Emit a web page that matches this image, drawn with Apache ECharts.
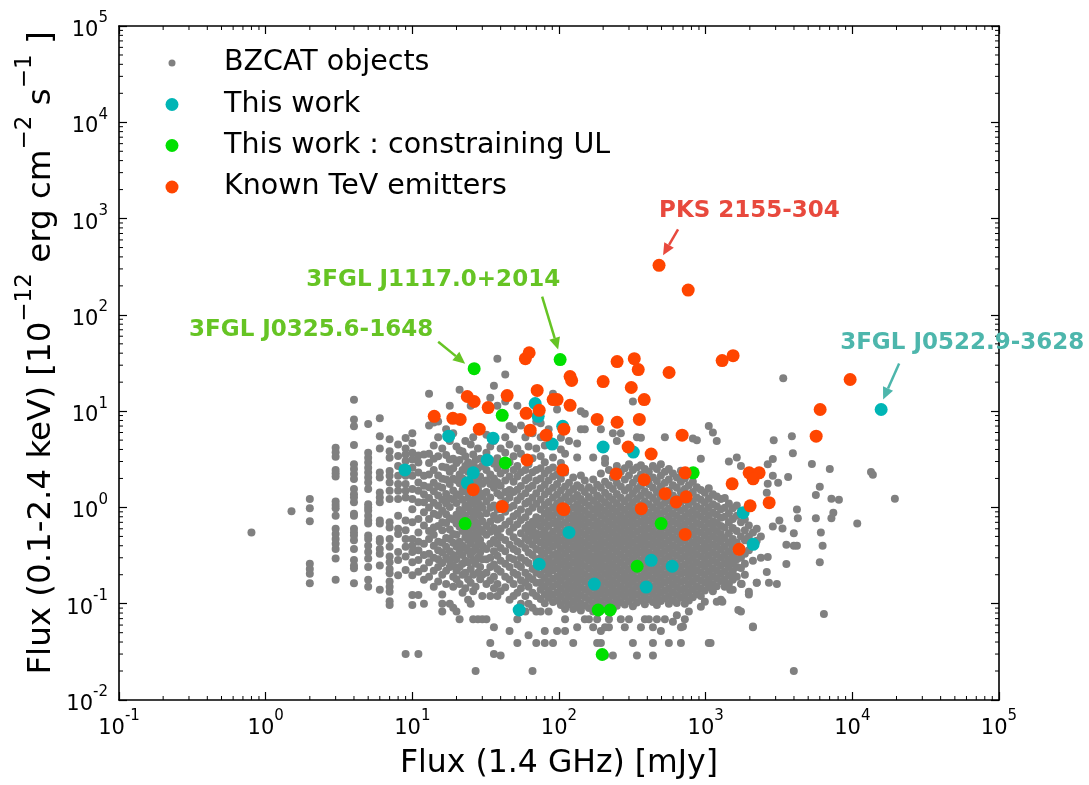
<!DOCTYPE html>
<html>
<head>
<meta charset="utf-8">
<script src="https://cdn.jsdelivr.net/npm/echarts@6/dist/echarts.min.js"></script>
<style>
html, body { margin: 0; padding: 0; background: #fff; }
#chart { width: 1089px; height: 785px; }
</style>
</head>
<body>
<div id="chart"></div>
<script>
// BZCAT blazars: radio flux at 1.4 GHz (mJy) with the 0.1-2.4 keV fluxes (1e-12 erg/cm2/s)
// of the sources found at that radio flux.
const bzcatColumns = [
  [0.8, [0.55]],
  [1.5, [0.91]],
  [2, [1.22, 0.98, 0.72, 0.26, 0.23, 0.205, 0.163]],
  [3, [4.16, 3.75, 3.37, 2.45, 2.27, 2.1, 1.15, 1.06, 0.98, 0.82, 0.6, 0.53, 0.47, 0.42, 0.37, 0.295, 0.177]],
  [4, [13.1, 8.2, 6.97, 4.44, 2.81, 2.5, 2.22, 1.97, 1.55, 1.37, 1.27, 1.13, 0.86, 0.82, 0.6, 0.55, 0.51, 0.455, 0.37, 0.284, 0.25, 0.233, 0.163]],
  [5, [7.35, 3.7, 3.29, 2.92, 2.59, 2.3, 2.05, 1.82, 1.55, 1.08, 1.0, 0.93, 0.82, 0.73, 0.68, 0.51, 0.47, 0.4, 0.345, 0.295, 0.24, 0.177, 0.15]],
  [6, [8.44, 5.5, 4.1, 2.3, 2.05, 1.43, 1.27, 1.13, 0.73, 0.68, 0.47, 0.44, 0.37, 0.33, 0.25, 0.14]],
  [7, [5.1, 3.84, 3.29, 2.39, 2.13, 1.82, 1.49, 1.22, 0.7, 0.62, 0.47, 0.39, 0.31, 0.27, 0.23, 0.207, 0.17, 0.15, 0.133, 0.106, 0.097]],
  [8, [4.5, 3.42, 2.7, 2.13, 1.75, 1.49, 1.22, 0.82, 0.6, 0.53, 0.345, 0.284, 0.198]],
  [9, [5.25, 4.1, 3.55, 3.03, 2.5, 2.13, 1.75, 1.49, 1.27, 0.73, 0.58, 0.47, 0.39, 0.31, 0.224, 0.03]],
  [10, [5.9, 4.67, 3.7, 3.15, 2.59, 2.13, 1.55, 1.22, 0.96, 0.7, 0.47, 0.4, 0.345, 0.27, 0.198, 0.123, 0.097]],
  [11, [3.46, 2.92, 2.3, 1.82, 1.49, 1.13, 0.76, 0.55, 0.44, 0.36, 0.284, 0.215, 0.123, 0.03]],
  [12, [3.55, 2.13, 1.68, 1.37, 1.13, 0.89, 0.65, 0.42, 0.32, 0.233, 0.177, 0.1]],
  [13, [15.2, 7.1, 3.6, 2.9, 2.2, 1.62, 1.25, 1.0, 0.76, 0.57, 0.47, 0.33, 0.27, 0.19]],
  [14, [7.6, 4.4, 3.2, 2.45, 1.8, 1.47, 1.12, 0.86, 0.62, 0.52, 0.4, 0.3, 0.22, 0.15]],
  [15, [7.8, 5.35, 3.4, 2.15, 1.66, 1.33, 1.04, 0.83, 0.64, 0.44, 0.36, 0.29, 0.24, 0.17]],
  [16, [4.1, 2.65, 1.98, 1.6, 1.2, 0.93, 0.7, 0.58, 0.43, 0.34, 0.265, 0.2, 0.125, 0.1, 0.083]],
  [17, [6.5, 3.5, 2.6, 1.95, 1.38, 1.1, 0.85, 0.69, 0.48, 0.39, 0.3, 0.22, 0.16]],
  [18, [11.4, 4.9, 3.15, 2.35, 1.75, 1.24, 1.01, 0.77, 0.59, 0.47, 0.35, 0.28, 0.24, 0.1]],
  [19, [5.9, 3.2, 2.55, 1.98, 1.5, 1.21, 0.75, 0.53, 0.43, 0.32, 0.25, 0.19, 0.15, 0.091]],
  [20, [4.3, 2.9, 1.93, 1.37, 1.11, 0.84, 0.68, 0.52, 0.39, 0.29, 0.22, 0.18, 0.083]],
  [21, [16.7, 3.9, 3.1, 2.2, 1.78, 1.33, 0.94, 0.78, 0.63, 0.44, 0.34, 0.24, 0.16, 0.069]],
  [22, [3.8, 2.45, 2.0, 1.52, 1.2, 0.9, 0.71, 0.57, 0.4, 0.32, 0.26, 0.2, 0.13]],
  [23, [4.9, 3.4, 2.7, 1.84, 1.46, 1.04, 0.82, 0.62, 0.49, 0.38, 0.28, 0.21, 0.145]],
  [24, [2.95, 2.35, 1.68, 1.25, 1.0, 0.75, 0.56, 0.46, 0.355, 0.27, 0.18, 0.11]],
  [25, [11.4, 4.5, 2.6, 2.0, 1.6, 1.14, 0.9, 0.69, 0.51, 0.42, 0.32, 0.23, 0.165, 0.1]],
  [26, [5.35, 3.55, 2.8, 1.92, 1.45, 1.1, 0.79, 0.62, 0.47, 0.35, 0.28, 0.2, 0.135, 0.069]],
  [27, [3.1, 2.2, 1.75, 1.27, 0.95, 0.7, 0.54, 0.38, 0.26, 0.15, 0.02]],
  [28, [4.1, 2.55, 1.85, 1.58, 1.15, 0.86, 0.68, 0.49, 0.41, 0.3, 0.21, 0.069]],
  [29, [6.5, 3.2, 2.1, 1.4, 1.05, 0.82, 0.59, 0.46, 0.34, 0.24, 0.18]],
  [30, [2.7, 1.76, 1.31, 0.99, 0.72, 0.56, 0.4, 0.29, 0.2, 0.12, 0.069]],
  [32, [5.7, 3.7, 2.45, 1.9, 1.45, 1.15, 0.87, 0.64, 0.52, 0.37, 0.29, 0.21, 0.16, 0.069]],
  [34, [13.8, 4.3, 3.1, 2.2, 1.75, 1.27, 0.99, 0.71, 0.56, 0.42, 0.3, 0.24, 0.175, 0.12, 0.039]],
  [36, [18.4, 4.9, 2.85, 2.0, 1.6, 1.05, 0.82, 0.61, 0.46, 0.35, 0.255, 0.19, 0.145, 0.057, 0.03]],
  [38, [35, 11.4, 3.25, 2.55, 1.83, 1.4, 0.95, 0.75, 0.54, 0.42, 0.315, 0.23, 0.16, 0.12]],
  [40, [4.1, 2.95, 2.25, 1.68, 1.32, 1.08, 0.78, 0.6, 0.49, 0.38, 0.28, 0.215, 0.135, 0.029]],
  [43, [24, 12.6, 5.35, 3.7, 2.45, 1.9, 1.45, 1.16, 0.9, 0.66, 0.46, 0.35, 0.26, 0.19, 0.148]],
  [46, [7.0, 4.5, 2.95, 2.1, 1.52, 1.27, 0.99, 0.72, 0.56, 0.41, 0.3, 0.24, 0.178, 0.11, 0.052]],
  [49, [6.5, 3.4, 2.45, 1.85, 1.45, 1.04, 0.81, 0.62, 0.49, 0.37, 0.29, 0.21, 0.16, 0.12]],
  [52, [11.4, 4.1, 2.7, 2.1, 1.53, 1.19, 0.86, 0.67, 0.44, 0.35, 0.255, 0.2, 0.13, 0.069, 0.039]],
  [55, [7.1, 3.6, 2.32, 1.67, 1.3, 0.95, 0.74, 0.54, 0.42, 0.3, 0.24, 0.175, 0.145, 0.1]],
  [59, [5.35, 3.1, 2.45, 1.92, 1.4, 1.1, 0.79, 0.61, 0.48, 0.38, 0.28, 0.21, 0.165, 0.12, 0.083]],
  [62, [4.3, 2.8, 2.02, 1.58, 1.15, 0.9, 0.66, 0.56, 0.45, 0.34, 0.265, 0.19, 0.15, 0.1, 0.047]],
  [66, [5.9, 3.25, 2.32, 1.68, 1.27, 0.99, 0.71, 0.6, 0.51, 0.41, 0.32, 0.23, 0.18, 0.13, 0.091, 0.02]],
  [70, [7.8, 4.1, 2.45, 1.9, 1.4, 1.09, 0.79, 0.67, 0.54, 0.46, 0.37, 0.29, 0.21, 0.165, 0.12, 0.083, 0.039]],
  [75, [7.5, 5.35, 3.4, 2.55, 2.0, 1.58, 1.21, 0.95, 0.76, 0.63, 0.52, 0.43, 0.355, 0.3, 0.245, 0.2, 0.165, 0.14, 0.112, 0.083]],
  [80, [4.4, 2.95, 2.25, 1.72, 1.36, 1.06, 0.86, 0.7, 0.575, 0.48, 0.4, 0.33, 0.275, 0.225, 0.185, 0.152, 0.125, 0.101, 0.052, 0.039]],
  [85, [6.5, 2.45, 1.9, 1.47, 1.14, 0.92, 0.78, 0.64, 0.51, 0.43, 0.36, 0.292, 0.245, 0.205, 0.168, 0.138, 0.115, 0.083]],
  [91, [15.2, 3.3, 2.6, 2.1, 1.6, 1.27, 1.0, 0.83, 0.69, 0.56, 0.47, 0.39, 0.32, 0.265, 0.222, 0.182, 0.151, 0.125, 0.104, 0.039]],
  [97, [10.4, 2.2, 1.75, 1.36, 1.1, 0.89, 0.72, 0.6, 0.49, 0.41, 0.335, 0.28, 0.232, 0.19, 0.158, 0.13, 0.108, 0.052]],
  [103, [5.3, 4.0, 2.9, 1.98, 1.5, 1.18, 0.97, 0.8, 0.66, 0.545, 0.45, 0.37, 0.305, 0.255, 0.21, 0.174, 0.143, 0.118, 0.097]],
  [110, [3.6, 2.3, 1.65, 1.28, 1.03, 0.86, 0.7, 0.58, 0.48, 0.4, 0.33, 0.275, 0.23, 0.19, 0.156, 0.129, 0.107, 0.088, 0.069, 0.052]],
  [117, [4.9, 1.8, 1.42, 1.15, 0.94, 0.77, 0.635, 0.525, 0.44, 0.365, 0.3, 0.25, 0.207, 0.171, 0.142, 0.118, 0.098]],
  [125, [2.05, 1.55, 1.24, 1.0, 0.82, 0.69, 0.57, 0.47, 0.39, 0.325, 0.27, 0.222, 0.185, 0.153, 0.127, 0.106, 0.088, 0.039]],
  [133, [4.6, 3.3, 1.7, 1.35, 1.08, 0.9, 0.74, 0.61, 0.505, 0.42, 0.35, 0.29, 0.24, 0.198, 0.165, 0.136, 0.113, 0.094, 0.057]],
  [141, [10, 6.5, 2.15, 1.6, 1.22, 0.98, 0.8, 0.66, 0.55, 0.455, 0.38, 0.315, 0.26, 0.215, 0.178, 0.147, 0.122, 0.1, 0.085]],
  [150, [9.4, 6.5, 1.9, 1.45, 1.13, 0.92, 0.76, 0.63, 0.52, 0.43, 0.36, 0.298, 0.246, 0.204, 0.169, 0.14, 0.116, 0.096, 0.069]],
  [160, [1.62, 1.28, 1.04, 0.85, 0.7, 0.58, 0.48, 0.4, 0.335, 0.28, 0.232, 0.192, 0.159, 0.132, 0.109, 0.09, 0.069]],
  [171, [3.3, 1.95, 1.5, 1.18, 0.96, 0.79, 0.65, 0.54, 0.45, 0.375, 0.31, 0.258, 0.214, 0.177, 0.147, 0.122, 0.101, 0.083, 0.057]],
  [182, [1.72, 1.33, 1.07, 0.88, 0.72, 0.6, 0.5, 0.415, 0.345, 0.287, 0.238, 0.197, 0.163, 0.135, 0.112, 0.093, 0.069, 0.039]],
  [193, [6.5, 2.25, 1.6, 1.24, 1.0, 0.83, 0.68, 0.565, 0.47, 0.39, 0.325, 0.27, 0.224, 0.185, 0.153, 0.127, 0.105, 0.085, 0.052, 0.039]],
  [206, [3.2, 2.9, 1.85, 1.42, 1.13, 0.92, 0.76, 0.625, 0.52, 0.43, 0.357, 0.296, 0.245, 0.203, 0.168, 0.139, 0.115, 0.095, 0.057, 0.029]],
  [219, [2.45, 1.7, 1.3, 1.04, 0.86, 0.71, 0.59, 0.49, 0.405, 0.335, 0.278, 0.23, 0.19, 0.158, 0.131, 0.108, 0.069, 0.057]],
  [233, [5.9, 2.05, 1.55, 1.2, 0.97, 0.8, 0.66, 0.545, 0.45, 0.375, 0.31, 0.257, 0.213, 0.176, 0.146, 0.121, 0.1, 0.088, 0.029]],
  [248, [4.9, 2.7, 1.8, 1.38, 1.1, 0.9, 0.74, 0.61, 0.505, 0.42, 0.348, 0.288, 0.238, 0.197, 0.163, 0.135, 0.112, 0.095]],
  [264, [5.9, 2.35, 1.65, 1.26, 1.01, 0.83, 0.69, 0.57, 0.47, 0.39, 0.323, 0.268, 0.222, 0.184, 0.152, 0.126, 0.104, 0.069]],
  [281, [2.55, 1.95, 1.5, 1.16, 0.94, 0.77, 0.64, 0.53, 0.44, 0.365, 0.302, 0.25, 0.207, 0.172, 0.142, 0.118, 0.098, 0.057]],
  [300, [4.4, 2.8, 2.15, 1.6, 1.27, 1.03, 0.85, 0.7, 0.58, 0.48, 0.4, 0.33, 0.274, 0.227, 0.188, 0.156, 0.129, 0.107, 0.069]],
  [319, [12.6, 2.45, 1.8, 1.4, 1.12, 0.92, 0.76, 0.63, 0.52, 0.43, 0.357, 0.296, 0.245, 0.203, 0.168, 0.139, 0.115, 0.094, 0.039]],
  [340, [5.35, 2.6, 2.0, 1.55, 1.22, 0.99, 0.82, 0.675, 0.56, 0.465, 0.385, 0.32, 0.265, 0.22, 0.182, 0.151, 0.125, 0.103, 0.029]],
  [362, [5.3, 2.75, 2.2, 1.7, 1.33, 1.06, 0.87, 0.72, 0.595, 0.49, 0.41, 0.34, 0.28, 0.232, 0.192, 0.159, 0.132, 0.109, 0.057]],
  [385, [2.5, 1.9, 1.47, 1.16, 0.94, 0.78, 0.645, 0.535, 0.445, 0.37, 0.305, 0.253, 0.21, 0.174, 0.144, 0.119, 0.099, 0.069]],
  [410, [2.35, 1.75, 1.35, 1.08, 0.88, 0.73, 0.6, 0.5, 0.415, 0.343, 0.284, 0.235, 0.195, 0.161, 0.134, 0.111, 0.069]],
  [437, [2.7, 2.05, 1.6, 1.25, 1.0, 0.82, 0.68, 0.565, 0.47, 0.39, 0.323, 0.268, 0.222, 0.184, 0.152, 0.126, 0.104, 0.057, 0.039, 0.029]],
  [465, [2.5, 1.88, 1.45, 1.14, 0.93, 0.77, 0.635, 0.525, 0.435, 0.36, 0.298, 0.247, 0.205, 0.17, 0.141, 0.117, 0.097, 0.069]],
  [495, [2.8, 2.15, 1.65, 1.3, 1.04, 0.85, 0.7, 0.58, 0.48, 0.4, 0.33, 0.274, 0.227, 0.188, 0.156, 0.129, 0.107, 0.052]],
  [527, [5.35, 2.35, 1.8, 1.4, 1.12, 0.91, 0.75, 0.62, 0.515, 0.425, 0.353, 0.292, 0.242, 0.2, 0.166, 0.137, 0.114, 0.069]],
  [561, [2.5, 1.95, 1.5, 1.19, 0.97, 0.8, 0.66, 0.545, 0.45, 0.373, 0.309, 0.256, 0.212, 0.175, 0.145, 0.12, 0.1, 0.039]],
  [598, [2.25, 1.7, 1.33, 1.06, 0.87, 0.72, 0.595, 0.49, 0.405, 0.336, 0.278, 0.23, 0.19, 0.158, 0.131, 0.108, 0.065]],
  [636, [2.05, 1.6, 1.24, 1.0, 0.82, 0.68, 0.56, 0.465, 0.385, 0.318, 0.263, 0.218, 0.18, 0.149, 0.123, 0.102, 0.076]],
  [678, [2.4, 1.85, 1.44, 1.14, 0.93, 0.76, 0.63, 0.52, 0.43, 0.357, 0.296, 0.245, 0.203, 0.168, 0.139, 0.115, 0.057, 0.039]],
  [721, [2.0, 1.55, 1.2, 0.97, 0.8, 0.66, 0.545, 0.45, 0.373, 0.309, 0.256, 0.212, 0.175, 0.145, 0.12, 0.1, 0.069]],
  [768, [2.2, 1.7, 1.33, 1.07, 0.87, 0.72, 0.595, 0.49, 0.405, 0.336, 0.278, 0.23, 0.19, 0.158, 0.131, 0.108, 0.083]],
  [818, [5.2, 1.85, 1.45, 1.15, 0.93, 0.77, 0.635, 0.525, 0.435, 0.36, 0.298, 0.247, 0.205, 0.17, 0.141, 0.117]],
  [871, [5.0, 1.62, 1.27, 1.02, 0.84, 0.69, 0.57, 0.47, 0.39, 0.323, 0.268, 0.222, 0.184, 0.152, 0.126]],
  [927, [3.2, 1.52, 1.2, 0.97, 0.8, 0.66, 0.545, 0.45, 0.373, 0.309, 0.256, 0.212, 0.175, 0.145, 0.12, 0.093]],
  [987, [1.42, 1.12, 0.91, 0.75, 0.62, 0.515, 0.425, 0.353, 0.292, 0.242, 0.2, 0.166, 0.137, 0.105]],
  [1050, [7.0, 1.58, 1.24, 1.0, 0.82, 0.68, 0.56, 0.465, 0.385, 0.318, 0.263, 0.218, 0.18, 0.149, 0.039]],
  [1120, [6.0, 1.37, 1.08, 0.88, 0.72, 0.6, 0.5, 0.41, 0.34, 0.282, 0.234, 0.194, 0.16, 0.135]],
  [1190, [4.9, 1.3, 1.03, 0.84, 0.69, 0.57, 0.47, 0.39, 0.323, 0.268, 0.222, 0.184, 0.152, 0.105]],
  [1270, [1.22, 0.96, 0.78, 0.64, 0.53, 0.44, 0.365, 0.302, 0.25, 0.207, 0.172, 0.11]],
  [1350, [1.25, 0.99, 0.8, 0.62, 0.48, 0.39, 0.32, 0.265, 0.218, 0.18, 0.15]],
  [1440, [3.0, 1.1, 0.87, 0.7, 0.54, 0.43, 0.35, 0.29, 0.24, 0.198, 0.16]],
  [1530, [0.98, 0.76, 0.61, 0.47, 0.39, 0.315, 0.26, 0.215, 0.177, 0.14]],
  [1630, [3.3, 1.05, 0.82, 0.57, 0.43, 0.35, 0.29, 0.24, 0.19]],
  [1740, [2.7, 0.9, 0.7, 0.5, 0.375, 0.3, 0.235, 0.161, 0.083]],
  [1850, [0.75, 0.58, 0.455, 0.33, 0.26, 0.2]],
  [1970, [0.65, 0.5, 0.36, 0.125]],
  [2100, [0.55, 0.4, 0.28, 0.057]],
  [2230, [0.6, 0.45, 0.165]],
  [2380, [0.5, 0.3]]
];

// Isolated BZCAT sources at the bright radio end: [radio mJy, X-ray flux]
const bzcatSparse = [
  [3380, 22], [2910, 5.0], [3870, 5.5], [3930, 3.66], [2650, 2.8], [2870, 3.18], [5300, 2.83],
  [7020, 2.5], [13400, 2.34], [13800, 2.18], [2870, 2.13], [3120, 1.8], [3650, 2.07], [6000, 1.64],
  [5640, 1.35], [2650, 1.76], [2610, 1.42], [7200, 1.23], [8100, 1.2], [19500, 1.23], [7420, 0.88],
  [7200, 0.77], [10800, 0.68], [4190, 0.95], [4250, 0.77], [5640, 0.77], [3180, 0.73], [3340, 0.605],
  [2870, 0.635], [3990, 0.54], [6100, 0.55], [6270, 0.4], [3990, 0.4], [4190, 0.4], [3550, 0.41],
  [2650, 0.305], [6000, 0.27], [3550, 0.258], [2610, 0.213], [2230, 0.165], [2700, 0.165], [3060, 0.16],
  [1970, 0.133], [1760, 0.16], [1470, 0.14], [1670, 0.086], [1300, 0.105], [2100, 0.058], [6400, 0.078],
  [1080, 0.039], [700, 0.058], [3990, 0.02]
];

// Sources of this work
const thisWork = [
  [15720, 10.4], [68.8, 12.0], [72.1, 8.84], [106, 6.97], [17.7, 5.5], [35.5, 5.24], [89.8, 4.55],
  [200, 4.24], [321, 3.76], [32.4, 3.11], [26, 2.29], [23.7, 1.8], [8.9, 2.45], [117, 0.55],
  [73.3, 0.257], [425, 0.282], [591, 0.245], [174, 0.16], [393, 0.149], [53.5, 0.086], [1800, 0.88],
  [2107, 0.414]
];

// Sources of this work with a constraining upper limit
const constrainingUL = [
  [101.8, 34.3], [26.4, 27.6], [41, 9.05], [43, 2.9], [822, 2.29], [22.9, 0.68], [497, 0.68],
  [341, 0.245], [185, 0.086], [223, 0.086], [197, 0.0297]
];

// Known TeV emitters
const tevEmitters = [
  [481, 327], [760, 181], [59, 35.1], [62.6, 40.4], [249, 32.7], [326, 35.1], [347, 27], [119, 22.9],
  [122, 20.8], [200, 20.3], [563, 25.2], [1295, 33.5], [1538, 37.7], [311, 17.6], [71, 16.4], [381, 13.2],
  [23.7, 14.2], [26.4, 12.6], [44.3, 14.5], [91.2, 13.2], [97.1, 13.2], [119, 11.5], [32.9, 10.9],
  [73.3, 10.2], [59.7, 9.5], [14.1, 8.84], [18.9, 8.43], [21.2, 8.2], [182, 8.2], [249, 7.67], [353, 8.2],
  [28.6, 6.49], [63.6, 6.34], [108, 6.49], [81.8, 5.63], [691, 5.63], [296, 4.24], [425, 3.59],
  [60.6, 3.11], [106, 2.45], [245, 2.23], [725, 2.29], [1979, 2.29], [2315, 2.29], [2107, 1.98],
  [381, 1.94], [1515, 1.76], [26, 1.53], [529, 1.39], [630, 1.14], [736, 1.29], [41, 1.02], [106, 0.97],
  [108, 0.95], [364, 0.97], [2010, 1.04], [2709, 1.12], [9662, 21.3], [6033, 10.4], [5667, 5.5],
  [725, 0.524], [1691, 0.367]
];

// Named sources: label, source list, index in that list
const namedSources = [
  ['PKS 2155-304', 'tev', 0],
  ['3FGL J1117.0+2014', 'ul', 0],
  ['3FGL J0325.6-1648', 'ul', 1],
  ['3FGL J0522.9-3628', 'work', 0]
];

const legendNames = ['BZCAT objects', 'This work', 'This work : constraining UL', 'Known TeV emitters'];

// ---------------------------------------------------------------------------
const bzcat = [];
bzcatColumns.forEach(([radio, xrays]) => xrays.forEach(x => bzcat.push([radio, x])));
bzcatSparse.forEach(p => bzcat.push(p));

const sourceLists = { tev: tevEmitters, ul: constrainingUL, work: thisWork };

const FONT = '"DejaVu Sans", "Liberation Sans", sans-serif';
const COL = { gray: '#808080', cyan: '#00b5b5', green: '#00e000', orange: '#ff4500' };

// minor tick values (2..9 x 10^k) for the decorations drawn inside the frame
function minorValues(k0, k1) {
  const out = [];
  for (let k = k0; k <= k1; k++) for (let m = 2; m <= 9; m++) out.push(m * Math.pow(10, k));
  return out;
}
const xMinor = minorValues(-1, 4).map(v => [v, 1]);
const yMinor = minorValues(-2, 4).map(v => [1, v]);

const powLabel = v => '{b|10}{s|' + Math.round(Math.log10(v)) + '}';
const tickRich = {
  b: { fontSize: 21, fontFamily: FONT, color: '#000', lineHeight: 30, verticalAlign: 'bottom' },
  s: { fontSize: 15, fontFamily: FONT, color: '#000', lineHeight: 14, verticalAlign: 'top' }
};

function logAxis(extra) {
  return Object.assign({
    type: 'log', logBase: 10, interval: 1,
    axisLine: { show: true, onZero: false, lineStyle: { color: '#000', width: 1.6 } },
    axisTick: { show: true, inside: true, length: 8, lineStyle: { color: '#000', width: 1.2 } },
    splitLine: { show: false },
    minorTick: { show: false }
  }, extra);
}

const chart = echarts.init(document.getElementById('chart'), null, { renderer: 'canvas' });

function minorTickItem(horizontal) {
  return function (params, api) {
    const cs = params.coordSys;
    const p = api.coord([api.value(0), api.value(1)]);
    const st = { stroke: '#000', lineWidth: 1 };
    if (horizontal) {
      const x = p[0], b = cs.y + cs.height, t = cs.y;
      return { type: 'group', children: [
        { type: 'line', shape: { x1: x, y1: b, x2: x, y2: b - 4 }, style: st },
        { type: 'line', shape: { x1: x, y1: t, x2: x, y2: t + 4 }, style: st }
      ] };
    }
    const y = p[1], l = cs.x, r = cs.x + cs.width;
    return { type: 'group', children: [
      { type: 'line', shape: { x1: l, y1: y, x2: l + 4, y2: y }, style: st },
      { type: 'line', shape: { x1: r, y1: y, x2: r - 4, y2: y }, style: st }
    ] };
  };
}

// one legend block per entry: marker centred at x=172, text starting at x=224
function legendItem(name, size, cy) {
  const left = 172 - size / 2;
  return {
    data: [name], left: left, top: cy - 14, padding: 0, itemGap: 0,
    itemWidth: size, itemHeight: size, icon: 'circle',
    textStyle: { fontSize: 28.5, lineHeight: 28, fontFamily: FONT, color: '#000',
      padding: [0, 0, 0, 224 - (left + size + 5)] }
  };
}

chart.setOption({
  animation: false,
  backgroundColor: '#fff',
  textStyle: { fontFamily: FONT },
  grid: { left: 119, right: 90, top: 26, bottom: 79, containLabel: false },
  legend: [
    legendItem(legendNames[0], 7, 62.5),
    legendItem(legendNames[1], 13, 104),
    legendItem(legendNames[2], 13, 145),
    legendItem(legendNames[3], 13, 186.5)
  ],
  xAxis: [
    logAxis({
      position: 'bottom', min: 0.1, max: 1e5,
      axisLabel: { formatter: powLabel, rich: tickRich, margin: 9 },
      name: 'Flux (1.4 GHz) [mJy]', nameLocation: 'middle', nameGap: 48,
      nameTextStyle: { fontSize: 31.5, fontFamily: FONT, color: '#000', lineHeight: 32 }
    }),
    logAxis({ position: 'top', min: 0.1, max: 1e5, axisLabel: { show: false } })
  ],
  yAxis: [
    logAxis({
      position: 'left', min: 0.01, max: 1e5,
      axisLabel: { formatter: powLabel, rich: tickRich, margin: 11 }
    }),
    logAxis({ position: 'right', min: 0.01, max: 1e5, axisLabel: { show: false } })
  ],
  series: [
    { name: legendNames[0], type: 'scatter', data: bzcat, symbol: 'circle', symbolSize: 8,
      itemStyle: { color: COL.gray, opacity: 1 }, z: 2, progressive: 0, silent: true },
    { name: legendNames[1], type: 'scatter', data: thisWork, symbol: 'circle', symbolSize: 13,
      itemStyle: { color: COL.cyan, opacity: 1 }, z: 3 },
    { name: legendNames[2], type: 'scatter', data: constrainingUL, symbol: 'circle', symbolSize: 13,
      itemStyle: { color: COL.green, opacity: 1 }, z: 4 },
    { name: legendNames[3], type: 'scatter', data: tevEmitters, symbol: 'circle', symbolSize: 13,
      itemStyle: { color: COL.orange, opacity: 1 }, z: 5 },
    { type: 'custom', data: xMinor, renderItem: minorTickItem(true), silent: true, clip: false, z: 10 },
    { type: 'custom', data: yMinor, renderItem: minorTickItem(false), silent: true, clip: false, z: 10 }
  ]
});

// Annotation layout: text offset and arrow (start, tip) relative to the labelled point, in px
const annotationLayout = [
  { color: '#e8493d', align: 'left', text: [0, -54], from: [19, -36], to: [4, -10] },
  { color: '#66c424', align: 'right', text: [0, -80], from: [-18, -63], to: [-2, -10] },
  { color: '#66c424', align: 'right', text: [-41, -39], from: [-36, -27], to: [-9, -5] },
  { color: '#4db6ac', align: 'left', text: [-41, -66], from: [18, -46], to: [2, -10] }
];

const graphics = [];

// y-axis title with superscripts, written bottom-to-top
const supStyle = { fontSize: 23, fontFamily: FONT, fill: '#000', lineHeight: 20, verticalAlign: 'top' };
const baseStyle = { fontSize: 32.5, fontFamily: FONT, fill: '#000', lineHeight: 44, verticalAlign: 'bottom' };
graphics.push({
  type: 'text', x: 36, y: 353, rotation: Math.PI / 2, silent: true,
  style: {
    text: '{b|Flux (0.1-2.4 keV) [10}{s|\u221212}{b| erg cm}{s|\u22122}{b| s}{s|\u22121}{b| ]}',
    align: 'center', verticalAlign: 'middle',
    rich: { b: baseStyle, s: supStyle }
  }
});

namedSources.forEach(([label, list, idx], i) => {
  const a = annotationLayout[i];
  const p = chart.convertToPixel({ xAxisIndex: 0, yAxisIndex: 0 }, sourceLists[list][idx]);
  const sx = p[0] + a.from[0], sy = p[1] + a.from[1];
  const tx = p[0] + a.to[0], ty = p[1] + a.to[1];
  const ang = Math.atan2(ty - sy, tx - sx);
  const hl = 12, hw = 5.5;
  const bx = tx - hl * Math.cos(ang), by = ty - hl * Math.sin(ang);
  const nx = -Math.sin(ang), ny = Math.cos(ang);
  graphics.push({ type: 'line', silent: true, z: 20,
    shape: { x1: sx, y1: sy, x2: bx, y2: by }, style: { stroke: a.color, lineWidth: 2.5 } });
  graphics.push({ type: 'polygon', silent: true, z: 20,
    shape: { points: [[tx, ty], [bx + nx * hw, by + ny * hw], [bx - nx * hw, by - ny * hw]] },
    style: { fill: a.color } });
  graphics.push({ type: 'text', silent: true, z: 20,
    x: p[0] + a.text[0], y: p[1] + a.text[1],
    style: { text: label, fill: a.color, font: 'bold 23px ' + FONT, align: a.align, verticalAlign: 'middle' } });
});

chart.setOption({ graphic: { elements: graphics } });
</script>
</body>
</html>
